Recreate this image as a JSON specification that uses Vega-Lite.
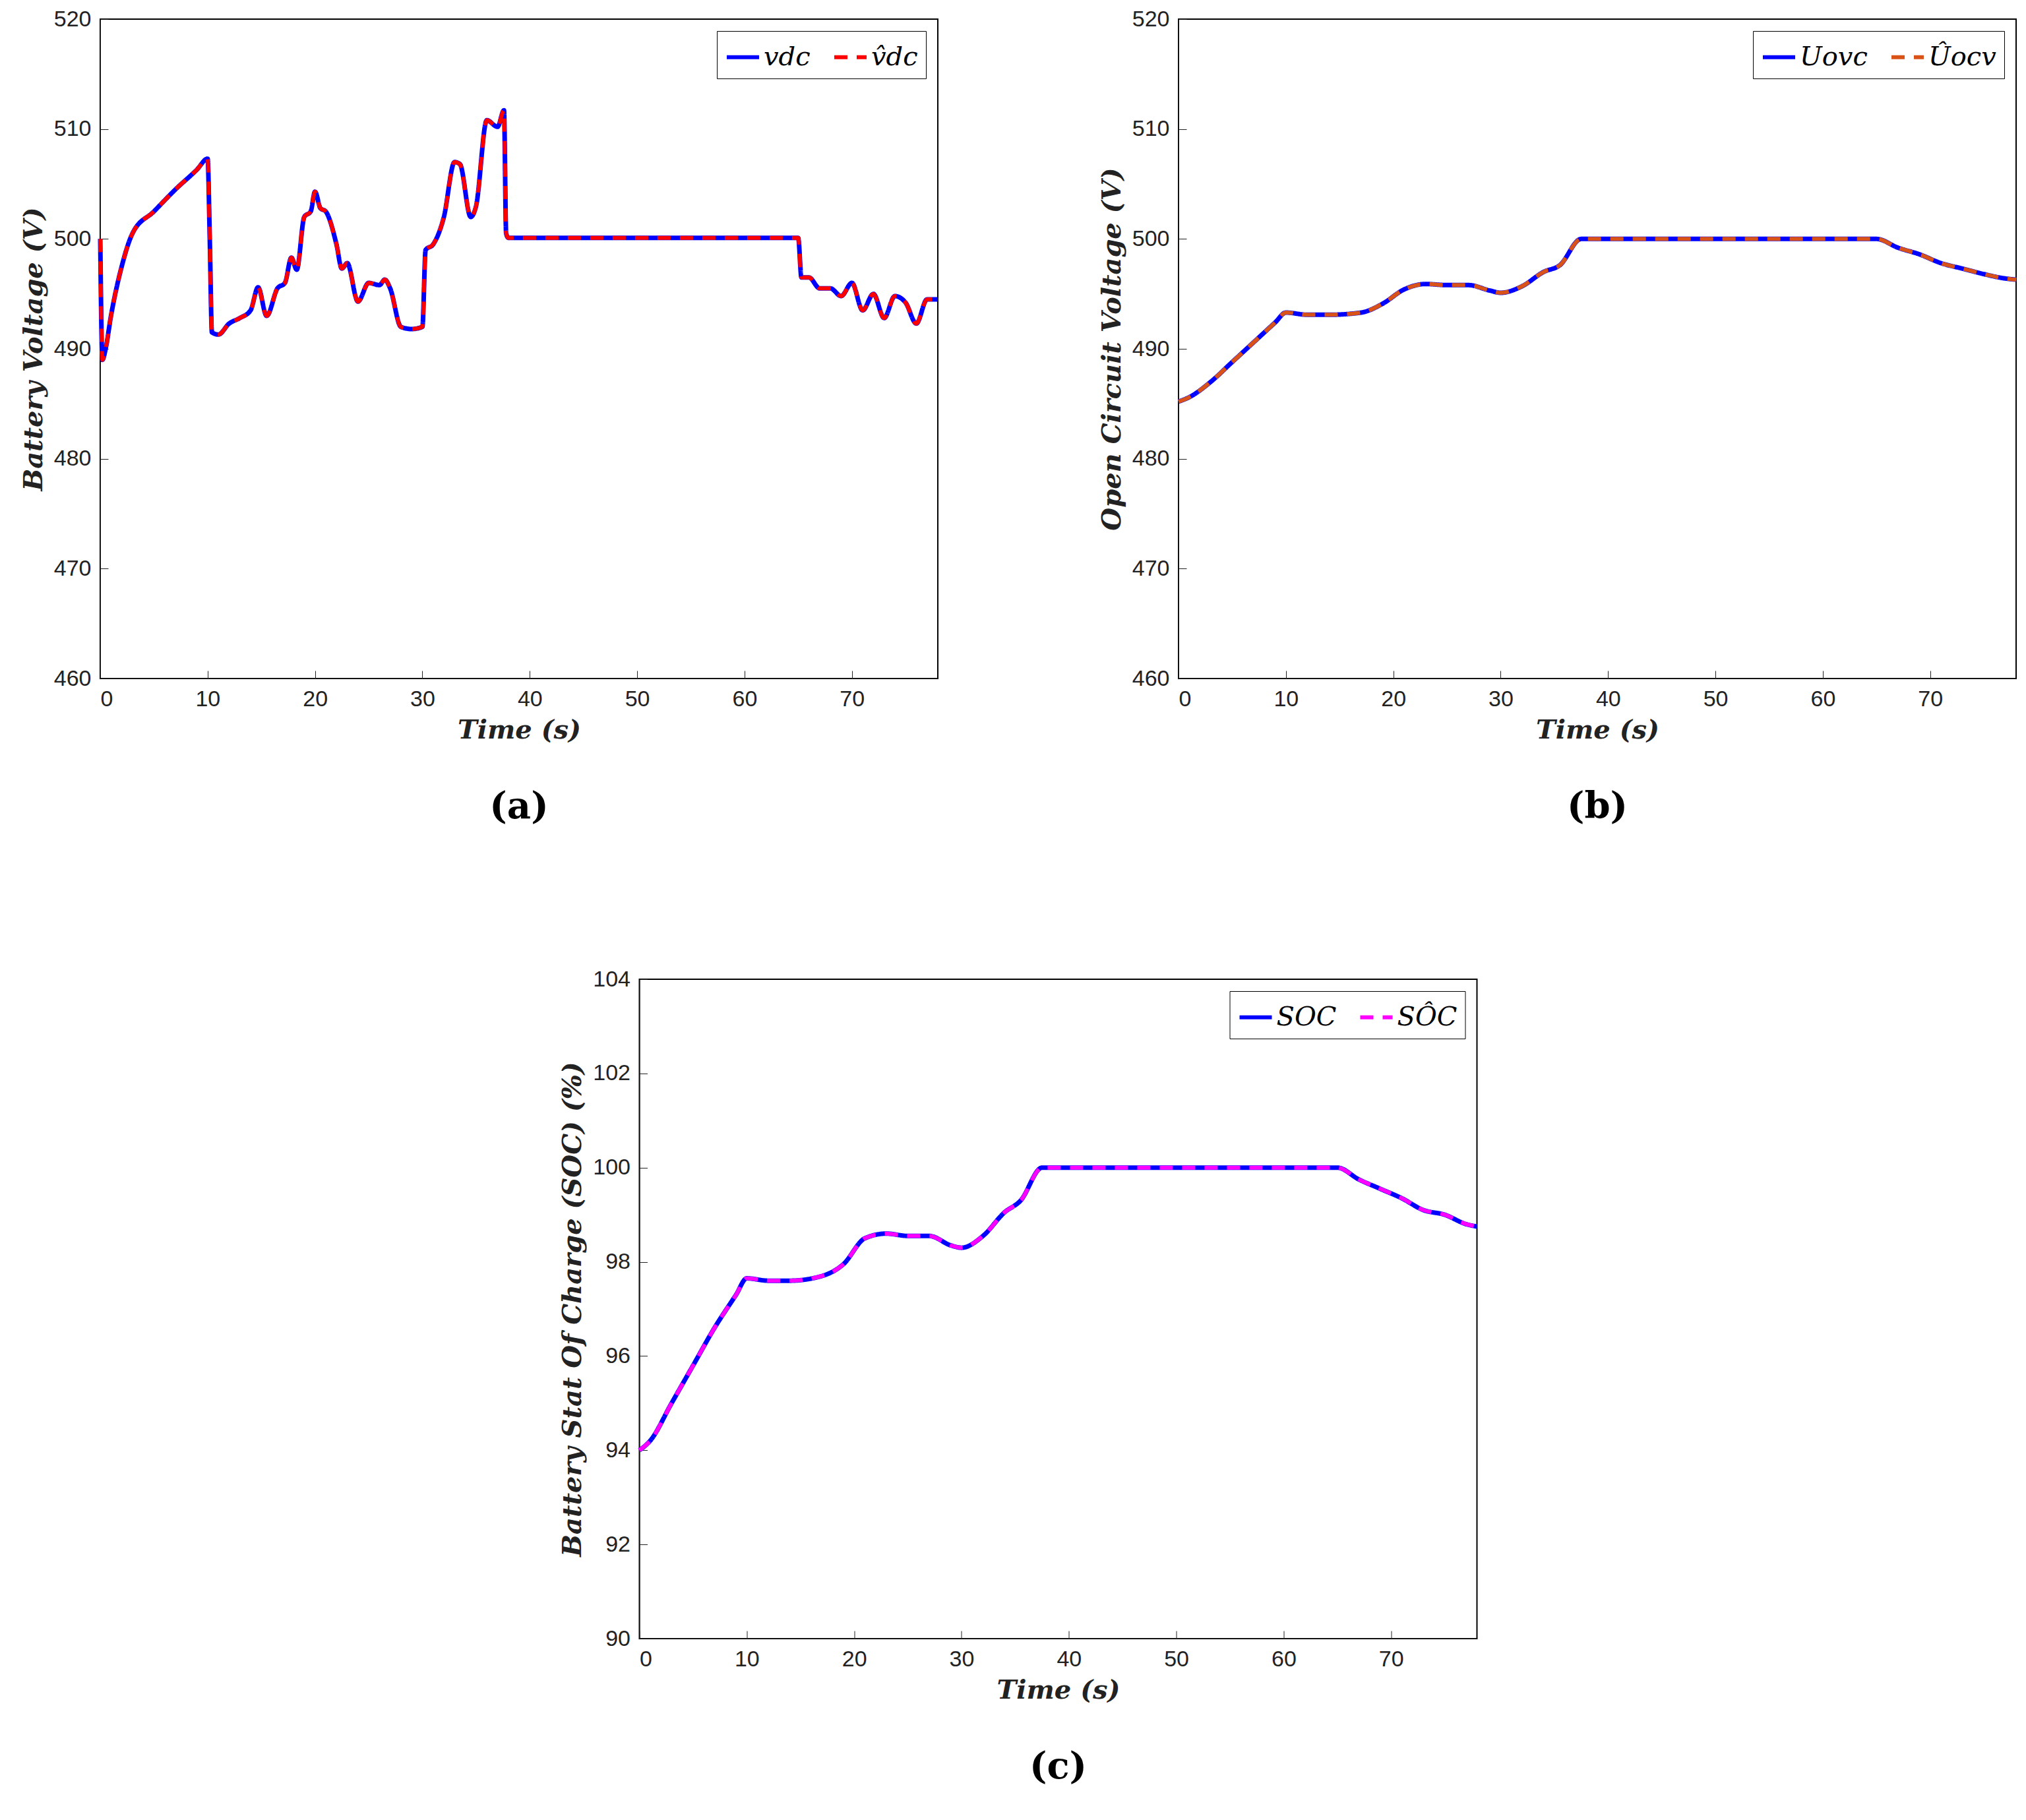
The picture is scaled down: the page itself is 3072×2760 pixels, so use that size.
{
  "$schema": "https://vega.github.io/schema/vega-lite/v6.json",
  "background": "white",
  "padding": {"left": 30, "top": 11, "right": 10, "bottom": 10},
  "datasets": {
    "a": [
      {"t": 0, "v": 500}, {"t": 0.2, "v": 489}, {"t": 0.5, "v": 490}, {"t": 1, "v": 493}, {"t": 2, "v": 497.5},
      {"t": 3, "v": 500.5}, {"t": 5, "v": 502.5}, {"t": 7, "v": 504.5}, {"t": 9, "v": 506.3}, {"t": 10, "v": 507.3},
      {"t": 10.2, "v": 500}, {"t": 10.4, "v": 491.5}, {"t": 11, "v": 491.3}, {"t": 12, "v": 492.3}, {"t": 13, "v": 492.8},
      {"t": 14, "v": 493.5}, {"t": 14.7, "v": 495.6}, {"t": 15.5, "v": 493}, {"t": 16.5, "v": 495.5}, {"t": 17.2, "v": 496},
      {"t": 17.8, "v": 498.3}, {"t": 18.3, "v": 497.2}, {"t": 19, "v": 502}, {"t": 19.6, "v": 502.5}, {"t": 20, "v": 504.3},
      {"t": 20.5, "v": 502.8}, {"t": 21, "v": 502.5}, {"t": 22, "v": 499.5}, {"t": 22.5, "v": 497.3}, {"t": 23, "v": 497.8},
      {"t": 24, "v": 494.3}, {"t": 25, "v": 496}, {"t": 26, "v": 495.8}, {"t": 26.5, "v": 496.3}, {"t": 27, "v": 495.5},
      {"t": 28, "v": 492}, {"t": 29, "v": 491.8}, {"t": 30, "v": 492}, {"t": 30.3, "v": 499}, {"t": 31, "v": 499.5},
      {"t": 32, "v": 502}, {"t": 33, "v": 507}, {"t": 33.5, "v": 506.8}, {"t": 34.5, "v": 502}, {"t": 35, "v": 503},
      {"t": 36, "v": 510.8}, {"t": 37, "v": 510.2}, {"t": 37.6, "v": 511.7}, {"t": 37.8, "v": 500.5}, {"t": 38, "v": 500.1},
      {"t": 65, "v": 500.1}, {"t": 65.3, "v": 496.5}, {"t": 66, "v": 496.5}, {"t": 67, "v": 495.5}, {"t": 68, "v": 495.5},
      {"t": 69, "v": 494.8}, {"t": 70, "v": 496}, {"t": 71, "v": 493.5}, {"t": 72, "v": 495}, {"t": 73, "v": 492.8},
      {"t": 74, "v": 494.8}, {"t": 75, "v": 494.2}, {"t": 76, "v": 492.3}, {"t": 77, "v": 494.5}, {"t": 78, "v": 494.5}
    ],
    "b": [
      {"t": 0, "v": 485.2}, {"t": 1, "v": 485.6}, {"t": 3, "v": 487}, {"t": 5, "v": 488.8}, {"t": 7, "v": 490.6},
      {"t": 9, "v": 492.4}, {"t": 10, "v": 493.3}, {"t": 12, "v": 493.1}, {"t": 14, "v": 493.1}, {"t": 17, "v": 493.3},
      {"t": 19, "v": 494.1}, {"t": 21, "v": 495.4}, {"t": 23, "v": 495.9}, {"t": 25, "v": 495.8}, {"t": 27, "v": 495.8},
      {"t": 29, "v": 495.3}, {"t": 30, "v": 495.1}, {"t": 32, "v": 495.7}, {"t": 34, "v": 497}, {"t": 35.5, "v": 497.6},
      {"t": 37.5, "v": 500}, {"t": 65, "v": 500}, {"t": 67, "v": 499.2}, {"t": 69, "v": 498.6}, {"t": 71, "v": 497.8},
      {"t": 73, "v": 497.3}, {"t": 75, "v": 496.8}, {"t": 77, "v": 496.4}, {"t": 78, "v": 496.3}
    ],
    "c": [
      {"t": 0, "v": 94}, {"t": 1, "v": 94.2}, {"t": 3, "v": 95}, {"t": 5, "v": 95.8}, {"t": 7, "v": 96.6},
      {"t": 9, "v": 97.3}, {"t": 10, "v": 97.65}, {"t": 12, "v": 97.6}, {"t": 14, "v": 97.6}, {"t": 17, "v": 97.7},
      {"t": 19, "v": 97.95}, {"t": 21, "v": 98.5}, {"t": 23, "v": 98.6}, {"t": 25, "v": 98.55}, {"t": 27, "v": 98.55},
      {"t": 29, "v": 98.35}, {"t": 30, "v": 98.3}, {"t": 32, "v": 98.55}, {"t": 34, "v": 99.05}, {"t": 35.5, "v": 99.3},
      {"t": 37.5, "v": 100}, {"t": 65, "v": 100}, {"t": 67, "v": 99.75}, {"t": 69, "v": 99.55}, {"t": 71, "v": 99.35},
      {"t": 73, "v": 99.1}, {"t": 75, "v": 99.0}, {"t": 77, "v": 98.8}, {"t": 78, "v": 98.75}
    ]
  },
  "config": {
    "view": {"stroke": "black", "strokeWidth": 2},
    "axis": {"grid": false, "labelFont": "Liberation Sans", "labelFontSize": 34, "labelColor": "#222", "tickColor": "#222", "domainColor": "#222", "tickSize": -12, "titleFont": "DejaVu Serif", "titleFontStyle": "italic", "titleFontWeight": "bold", "titleFontSize": 40, "titleColor": "#222", "labelPadding": 26},
    "axisX": {"titlePadding": 10},
    "axisY": {"titlePadding": 10},
    "title": {"font": "DejaVu Serif", "fontSize": 56, "fontWeight": "bold", "color": "black", "orient": "bottom", "offset": 70},
    "legend": {"orient": "top-right", "direction": "horizontal", "strokeColor": "black", "fillColor": "white", "padding": 12, "offset": 18, "symbolType": "stroke", "symbolSize": 2400, "symbolStrokeWidth": 6, "labelFont": "DejaVu Serif", "labelFontStyle": "italic", "labelFontSize": 40, "columnPadding": 24, "title": null}
  },
  "vconcat": [
    {
      "hconcat": [
        {
          "title": "(a)",
          "width": 1270, "height": 1000,
          "data": {"name": "a"},
          "encoding": {
            "x": {"field": "t", "type": "quantitative", "scale": {"domain": [0, 78], "nice": false}, "axis": {"values": [0, 10, 20, 30, 40, 50, 60, 70], "title": "Time (s)"}},
            "y": {"field": "v", "type": "quantitative", "scale": {"domain": [460, 520], "nice": false}, "axis": {"values": [460, 470, 480, 490, 500, 510, 520], "title": "Battery Voltage (V)"}}
          },
          "layer": [
            {"mark": {"type": "line", "strokeWidth": 7, "interpolate": "monotone"}, "encoding": {"color": {"datum": "vdc", "scale": {"domain": ["vdc", "v̂dc"], "range": ["#0000FF", "#FF0000"]}}, "strokeDash": {"datum": "vdc", "scale": {"domain": ["vdc", "v̂dc"], "range": [[1, 0], [20, 14]]}}}},
            {"mark": {"type": "line", "strokeWidth": 6, "interpolate": "monotone"}, "encoding": {"color": {"datum": "v̂dc"}, "strokeDash": {"datum": "v̂dc"}}}
          ]
        },
        {
          "title": "(b)",
          "width": 1270, "height": 1000,
          "data": {"name": "b"},
          "encoding": {
            "x": {"field": "t", "type": "quantitative", "scale": {"domain": [0, 78], "nice": false}, "axis": {"values": [0, 10, 20, 30, 40, 50, 60, 70], "title": "Time (s)"}},
            "y": {"field": "v", "type": "quantitative", "scale": {"domain": [460, 520], "nice": false}, "axis": {"values": [460, 470, 480, 490, 500, 510, 520], "title": "Open Circuit Voltage (V)"}}
          },
          "layer": [
            {"mark": {"type": "line", "strokeWidth": 7, "interpolate": "monotone"}, "encoding": {"color": {"datum": "Uovc", "scale": {"domain": ["Uovc", "Ûocv"], "range": ["#0000FF", "#D95319"]}}, "strokeDash": {"datum": "Uovc", "scale": {"domain": ["Uovc", "Ûocv"], "range": [[1, 0], [20, 14]]}}}},
            {"mark": {"type": "line", "strokeWidth": 6, "interpolate": "monotone"}, "encoding": {"color": {"datum": "Ûocv"}, "strokeDash": {"datum": "Ûocv"}}}
          ]
        }
      ],
      "spacing": 228,
      "resolve": {"scale": {"color": "independent", "strokeDash": "independent"}}
    },
    {
      "title": "(c)",
      "width": 1270, "height": 1000,
      "data": {"name": "c"},
      "encoding": {
        "x": {"field": "t", "type": "quantitative", "scale": {"domain": [0, 78], "nice": false}, "axis": {"values": [0, 10, 20, 30, 40, 50, 60, 70], "title": "Time (s)"}},
        "y": {"field": "v", "type": "quantitative", "scale": {"domain": [90, 104], "nice": false}, "axis": {"values": [90, 92, 94, 96, 98, 100, 102, 104], "title": "Battery Stat Of Charge (SOC) (%)"}}
      },
      "layer": [
        {"mark": {"type": "line", "strokeWidth": 7, "interpolate": "monotone"}, "encoding": {"color": {"datum": "SOC", "scale": {"domain": ["SOC", "SÔC"], "range": ["#0000FF", "#FF00FF"]}}, "strokeDash": {"datum": "SOC", "scale": {"domain": ["SOC", "SÔC"], "range": [[1, 0], [20, 14]]}}}},
        {"mark": {"type": "line", "strokeWidth": 6, "interpolate": "monotone"}, "encoding": {"color": {"datum": "SÔC"}, "strokeDash": {"datum": "SÔC"}}}
      ]
    }
  ],
  "spacing": 214,
  "center": true,
  "resolve": {"scale": {"color": "independent", "strokeDash": "independent"}}
}
